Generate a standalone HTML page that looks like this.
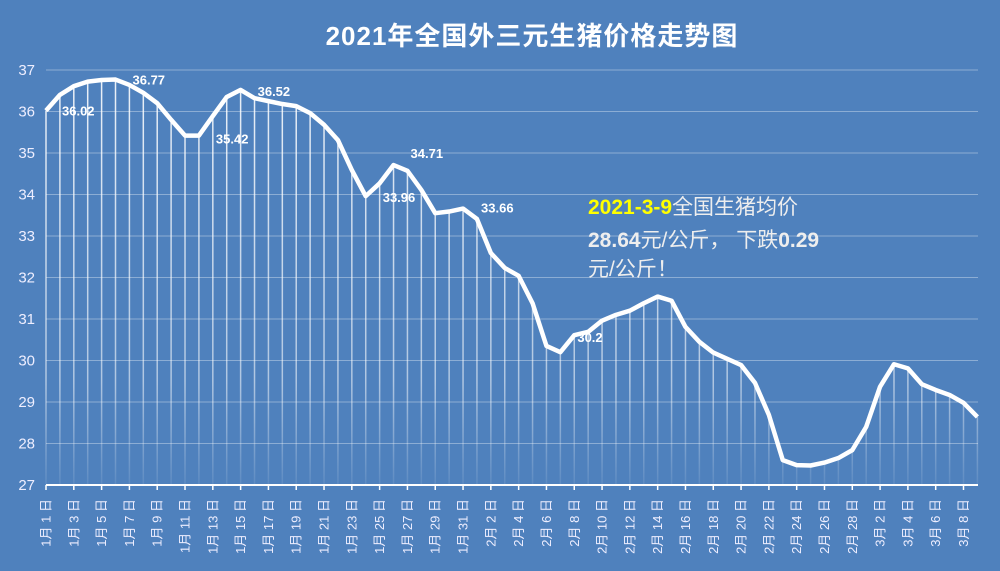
<!DOCTYPE html>
<html><head><meta charset="utf-8"><style>
body{margin:0;background:#4F81BD;}
svg{display:block;font-family:"Liberation Sans","Noto Sans CJK SC",sans-serif;}
</style></head><body>
<svg width="1000" height="571">
<defs>
<linearGradient id="fade" gradientUnits="userSpaceOnUse" x1="0" y1="70" x2="0" y2="485"><stop offset="0" stop-color="#fff" stop-opacity="0.9"/><stop offset="0.75" stop-color="#fff" stop-opacity="0.55"/><stop offset="1" stop-color="#fff" stop-opacity="0.08"/></linearGradient>
</defs>
<rect width="1000" height="571" fill="#4F81BD"/>
<text x="532" y="45" text-anchor="middle" fill="#fff" font-size="26" font-weight="bold" letter-spacing="1">2021年全国外三元生猪价格走势图</text>
<g id="grid"></g><g id="drops"></g><g id="axes"></g><g id="series"></g><g id="labels"></g>
<g font-size="21" fill="#eee">
<text x="588" y="214"><tspan fill="#FFFF00" font-weight="bold">2021-3-9</tspan>全国生猪均价</text>
<text x="588" y="247"><tspan font-weight="bold">28.64</tspan>元/公斤， 下跌<tspan font-weight="bold">0.29</tspan></text>
<text x="588" y="276">元/公斤！</text>
</g>
</svg>
<script>
const categories=[];
const monthDays=[[1,31],[2,28],[3,9]];
for(const [m,n] of monthDays){for(let d=1;d<=n;d++)categories.push(m+'月'+d+'日');}
const prices=[36.02,36.40,36.61,36.72,36.76,36.77,36.64,36.45,36.20,35.80,35.42,35.42,35.89,36.35,36.52,36.32,36.25,36.18,36.13,35.96,35.68,35.31,34.59,33.96,34.27,34.71,34.57,34.11,33.55,33.59,33.66,33.41,32.59,32.23,32.04,31.38,30.35,30.20,30.61,30.69,30.96,31.10,31.20,31.38,31.54,31.44,30.81,30.45,30.19,30.04,29.89,29.46,28.69,27.60,27.48,27.47,27.54,27.65,27.84,28.40,29.37,29.91,29.81,29.43,29.29,29.17,28.98,28.64];
const yTicks=[27,28,29,30,31,32,33,34,35,36,37];
const labeledIdx=[0,5,11,14,23,25,30,37];
const labelOffsets=[[16,5],[17,5],[17,8],[17,6],[17,6],[17,-7],[18,4],[17,-10]];
const NS='http://www.w3.org/2000/svg';
const X0=46,X1=977.4,Y0=485,Y1=70,YMIN=27,YMAX=37;
const x=i=>X0+i*(X1-X0)/(categories.length-1);
const y=v=>Y0-(v-YMIN)*(Y0-Y1)/(YMAX-YMIN);
function mk(tag,attrs,parent){const e=document.createElementNS(NS,tag);for(const k in attrs)e.setAttribute(k,attrs[k]);document.getElementById(parent).appendChild(e);return e;}
yTicks.forEach(t=>{
  if(t>YMIN){const l=mk('line',{x1:X0,x2:978,y1:y(t),y2:y(t),stroke:'#fff','stroke-opacity':0.35,'stroke-width':1},'grid');
  
  }
  const tx=mk('text',{x:35,y:y(t)+5,'text-anchor':'end',fill:'#eef','font-size':15},'axes');tx.textContent=t;
  
  
});
prices.forEach((v,i)=>{
  const l=mk('line',{x1:x(i),x2:x(i),y1:y(v),y2:Y0,stroke:'url(#fade)','stroke-width':1.5},'drops');
  
  
});
const ax=mk('line',{x1:X0,x2:978,y1:Y0,y2:Y0,stroke:'#fff','stroke-width':2},'axes');


categories.forEach((c,i)=>{
  if(i%2)return;
  const tk=mk('line',{x1:x(i),x2:x(i),y1:Y0,y2:Y0+5,stroke:'#fff','stroke-width':1.5},'axes');
  
  
  const t=mk('text',{transform:`translate(${x(i)+4.5},499) rotate(-90)`,'text-anchor':'end',fill:'#eef','font-size':13},'axes');
  t.textContent=c.replace('月','月 ').replace(/(\d+)日$/,'$1 日');
  
  
});
const p=mk('polyline',{points:prices.map((v,i)=>x(i)+','+y(v)).join(' '),fill:'none',stroke:'#fff','stroke-width':4.5,'stroke-linejoin':'round'},'series');


labeledIdx.forEach((idx,k)=>{
  const t=mk('text',{x:x(idx)+labelOffsets[k][0],y:y(prices[idx])+labelOffsets[k][1],fill:'#fff','font-size':13,'font-weight':'bold'},'labels');
  t.textContent=String(prices[idx]).replace(/\.?0+$/,'');
  
  
});
</script>
</body></html>
